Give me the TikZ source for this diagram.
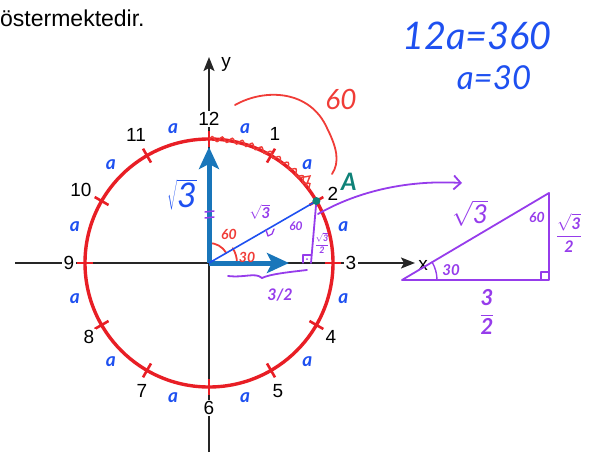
\documentclass[tikz,border=0pt]{standalone}
\usepackage{fontspec}
\setmainfont{Liberation Sans}
\newfontfamily\hand{Lato}
\usetikzlibrary{arrows.meta,decorations.pathmorphing}
\definecolor{circred}{RGB}{232,30,37}
\definecolor{inkred}{RGB}{240,60,55}
\definecolor{inkblue}{RGB}{30,80,240}
\definecolor{inkpurple}{RGB}{150,60,235}
\definecolor{arrblue}{RGB}{25,118,186}
\definecolor{inkteal}{RGB}{15,130,120}
\newcommand\hsq[1]{$\sqrt{\mbox{#1}}$}
\newcommand\hfr[2]{$\displaystyle\frac{\mbox{#1}}{\mbox{#2}}$}
\tikzset{
  num/.style={font=\fontsize{19}{21}\selectfont, fill=white, inner sep=1.5pt},
  aa/.style={font=\hand\itshape\bfseries\fontsize{19}{21}\selectfont, text=inkblue, inner sep=0pt},
  axis/.style={line width=1.8pt, black!85, -{Stealth[length=14pt,width=11pt,inset=3pt]}},
  tick/.style={circred, line width=2.6pt},
  bluearr/.style={arrblue, line width=5pt, -{Stealth[length=22pt,width=20pt,inset=5pt]}},
  pur/.style={inkpurple, line width=1.8pt, line cap=round, line join=round},
  redink/.style={inkred, line width=1.8pt, line cap=round},
  hred/.style={font=\hand\itshape, text=inkred, inner sep=0pt},
  hpur/.style={font=\hand\itshape, text=inkpurple, inner sep=0pt},
  hblue/.style={font=\hand\itshape, text=inkblue, inner sep=0pt}
}
\begin{document}
\begin{tikzpicture}[x=1pt,y=-1pt]
\useasboundingbox (0,0) rectangle (590,458);
% top text
\node[anchor=west, font=\fontsize{23}{26}\selectfont, inner sep=0pt] (txt) at (0,18) {östermektedir.};
% axes
\coordinate (C) at (209,263);
\coordinate (xs) at (15,263);
\coordinate (xe) at (415,263);
\coordinate (ys) at (209,452);
\coordinate (ye) at (209,57);
\draw[axis] (xs) -- (xe);
\draw[axis] (ys) -- (ye);
\node[font=\fontsize{19}{21}\selectfont, inner sep=0pt] (xl) at (423,265) {x};
\node[font=\fontsize{19}{21}\selectfont, inner sep=0pt] (yl) at (226,64) {y};
% circle and ticks
\begin{scope}[shift={(209,263)}, yscale=-1]
  \draw[circred, line width=3.4pt] (0,0) circle (124);
  \foreach \k in {0,30,...,330} {
    \draw[tick] (\k:116) -- (\k:132);
  }
  \foreach \ang in {15,45,...,345} {
    \node[aa] at (\ang:139) {a};
  }
  % red squiggle along arc
  \draw[inkred, line width=1.4pt, decorate, decoration={snake, amplitude=2.5pt, segment length=10pt}]
    (90:124) arc (90:36:124);
  % angle arcs
  \draw[redink] (90:20) arc (90:30:20);
  \draw[redink] (32:28) arc (32:0:28);
  % point on circle
  \coordinate (P) at (30:124);
\end{scope}
% clock numbers
\node[num] (n12) at (209,119) {12};
\node[num] (n1) at (275,134) {1};
\node[num] (n2) at (333,194) {2};
\node[num] (n3) at (351,263) {3};
\node[num] (n4) at (331,337) {4};
\node[num] (n5) at (278,391) {5};
\node[num] (n6) at (209,408) {6};
\node[num] (n7) at (142,391) {7};
\node[num] (n8) at (89,337) {8};
\node[num] (n9) at (69,263) {9};
\node[num] (n10) at (81,190) {10};
\node[num] (n11) at (136,135) {11};
% blue vectors
\coordinate (vt) at (209,147);
\coordinate (ht) at (289,263);
\draw[bluearr] (C) -- (vt);
\draw[bluearr] (C) -- (ht);
\draw[inkblue, line width=1.6pt] (C) -- (P);
% red annotations
\draw[redink] (235,105) .. controls (265,88) and (310,90) .. (327,128)
  .. controls (337,148) and (340,162) .. (332,174);
\draw[redink, line width=1.4pt] (298,178) -- (310,176) -- (306,186);
\node[hred, font=\hand\itshape\fontsize{28}{30}\selectfont] (r60) at (341,99) {60};
\node[hred, font=\hand\itshape\bfseries\fontsize{14}{15}\selectfont] (r60b) at (229,234) {60};
\node[hred, font=\hand\itshape\bfseries\fontsize{14}{15}\selectfont] (r30) at (247,257) {30};
% purple annotations (on circle)
\coordinate (F) at (311,263);
\draw[pur] (P) -- (F);
\draw[pur, line width=1.3pt] (303,263) -- (303,255) -- (311,255);
\fill[inkpurple] (307,259) circle (1pt);
\draw[pur, line width=1.5pt] (205,212) -- (214,211);
\draw[pur, line width=1.5pt] (205,218) -- (214,217);
\draw[pur, line width=1.3pt] (266,230) -- (268,236) -- (272,234) -- (274,229);
\node[hpur, font=\hand\itshape\bfseries\fontsize{15}{16}\selectfont] (p3) at (260,212) {\hsq{3}};
\node[hpur, font=\hand\itshape\bfseries\fontsize{12}{13}\selectfont] (p60) at (296,226) {60};
\node[hpur, font=\hand\itshape\bfseries\fontsize{9}{10}\selectfont] (pfr) at (322,243) {\hfr{$\sqrt{\mbox{3}}$}{2}};
\draw[pur] (228,276) .. controls (245,278) and (255,272) .. (262,278)
  .. controls (270,274) and (290,272) .. (307,270);
\node[hpur, font=\hand\itshape\bfseries\fontsize{16}{18}\selectfont] (p32) at (280,295) {3/2};
% curved arrow to the triangle
\coordinate (cs) at (318,214);
\coordinate (ce) at (462,183);
\draw[pur, -{Straight Barb[length=7pt,width=14pt]}] (cs) .. controls (360,190) and (410,180) .. (ce);
% triangle
\coordinate (TA) at (402,280);
\coordinate (TB) at (549,280);
\coordinate (TC) at (549,193);
\draw[pur] (TA) -- (TB) -- (TC) -- cycle;
\draw[pur, line width=1.4pt] (437,280) arc (0:-30.6:35);
\draw[pur, line width=1.4pt] (541,280) -- (541,272) -- (549,272);
\node[hpur, font=\hand\itshape\fontsize{26}{28}\selectfont] (t3) at (470,213) {\hsq{3}};
\node[hpur, font=\hand\itshape\bfseries\fontsize{14}{15}\selectfont] (t60) at (537,217) {60};
\node[hpur, font=\hand\itshape\bfseries\fontsize{15}{16}\selectfont] (t30) at (451,270) {30};
\node[hpur, font=\hand\itshape\bfseries\fontsize{16}{17}\selectfont] (tfr) at (569,233) {\hfr{$\sqrt{\mbox{3}}$}{2}};
\node[hpur, font=\hand\itshape\bfseries\fontsize{22}{24}\selectfont] (t32) at (487,312) {\hfr{3}{2}};
% teal point and A
\fill[inkteal] (P) circle (4pt);
\node[font=\hand\itshape\bfseries\fontsize{24}{26}\selectfont, text=inkteal, inner sep=0pt] (A) at (349,182) {A};
% big blue sqrt3
\node[hblue, font=\hand\itshape\fontsize{34}{36}\selectfont] (b3) at (182,195) {\hsq{3}};
% top right equations
\node[hblue, font=\hand\itshape\fontsize{38}{40}\selectfont] (e1) at (477,36) {12a=360};
\node[hblue, font=\hand\itshape\fontsize{33}{35}\selectfont] (e2) at (494,78) {a=30};
\end{tikzpicture}
\end{document}
